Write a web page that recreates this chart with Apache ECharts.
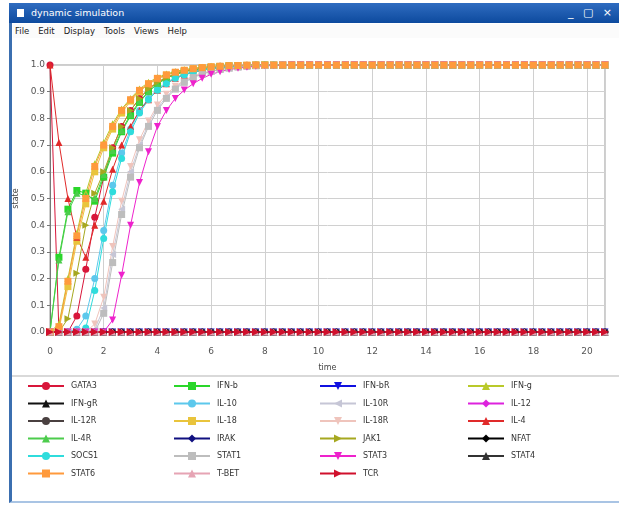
<!DOCTYPE html>
<html>
<head>
<meta charset="utf-8">
<script src="https://cdn.jsdelivr.net/npm/echarts@6/dist/echarts.min.js"></script>
<style>
html,body{margin:0;padding:0;background:#fff;width:619px;height:508px;overflow:hidden;font-family:"DejaVu Sans",sans-serif;}
#frame{position:absolute;left:9px;top:3px;width:610px;height:500px;border-left:3px solid #3b6fb0;border-bottom:2px solid #a9c4e4;box-sizing:border-box;}
#titlebar{position:absolute;left:9px;top:3px;width:610px;height:20px;background:linear-gradient(#2f6cc0,#0d4a9e);color:#fff;font-size:9.5px;line-height:20px;}
#titlebar .ico{position:absolute;left:8px;top:6px;width:7px;height:8px;background:#fff;}
#titlebar .t{position:absolute;left:22px;top:0;}
#titlebar .ctl{position:absolute;right:4px;top:0;font-size:11px;letter-spacing:3px;}
#menu{position:absolute;left:13px;top:24px;width:606px;height:14px;font-size:8.5px;line-height:14px;color:#222;background:#fbfbfb;}
#menu span{margin-right:7px;margin-left:2px}
#sep{position:absolute;left:12px;top:375px;width:607px;height:2px;background:#d9d9d9;}
#chart{position:absolute;left:0;top:0;width:619px;height:508px;}
</style>
</head>
<body>
<div id="frame"></div>
<div id="titlebar"><div class="ico"></div><span class="t">dynamic simulation</span><span class="ctl">_ ▢ ×</span></div>
<div id="menu"><span>File</span><span>Edit</span><span>Display</span><span>Tools</span><span>Views</span><span>Help</span></div>
<div id="sep"></div>
<div id="chart"></div>
<script>
// time points (simulation steps)
const time = [0,0.333,0.667,1,1.333,1.667,2,2.333,2.667,3,3.333,3.667,4,4.333,4.667,5,5.333,5.667,6,6.333,6.667,7,7.333,7.667,8,8.333,8.667,9,9.333,9.667,10,10.333,10.667,11,11.333,11.667,12,12.333,12.667,13,13.333,13.667,14,14.333,14.667,15,15.333,15.667,16,16.333,16.667,17,17.333,17.667,18,18.333,18.667,19,19.333,19.667,20,20.333,20.667];

const xTicks = [0,2,4,6,8,10,12,14,16,18,20];
const yTicks = [0.0,0.1,0.2,0.3,0.4,0.5,0.6,0.7,0.8,0.9,1.0];

// node states
const flatOff = [0,0,0,0,0,0,0,0,0,0, 0,0,0,0,0,0,0,0,0,0, 0,0,0,0,0,0,0,0,0,0, 0,0,0,0,0,0,0,0,0,0, 0,0,0,0,0,0,0,0,0,0, 0,0,0,0,0,0,0,0,0,0, 0,0,0];

const GATA3 = [1,0,0,0.06,0.235,0.43,0.58,0.69,0.77,0.83,0.875,0.91,0.935,0.953,0.966,0.976,0.983,0.988,0.992,0.995,0.997,0.998,0.999,
  1,1,1,1,1,1,1,1,1,1, 1,1,1,1,1,1,1,1,1,1, 1,1,1,1,1,1,1,1,1,1, 1,1,1,1,1,1,1,1,1,1];
const IFNb = [0,0.28,0.46,0.53,0.52,0.49,0.58,0.67,0.75,0.81,0.86,0.9,0.93,0.95,0.965,0.975,0.982,0.987,0.991,0.994,0.996,0.997,0.998,0.999,
  1,1,1,1,1,1,1,1,1,1, 1,1,1,1,1,1,1,1,1,1, 1,1,1,1,1,1,1,1,1,1, 1,1,1,1,1,1,1,1,1];
const IFNg = [0,0.03,0.2,0.37,0.52,0.63,0.71,0.78,0.835,0.875,0.91,0.935,0.953,0.966,0.976,0.983,0.988,0.992,0.995,0.997,0.998,0.999,
  1,1,1,1,1,1,1,1,1,1, 1,1,1,1,1,1,1,1,1,1, 1,1,1,1,1,1,1,1,1,1, 1,1,1,1,1,1,1,1,1,1, 1];
const IL10 = [0,0,0,0.01,0.06,0.2,0.38,0.55,0.67,0.76,0.83,0.875,0.91,0.935,0.953,0.966,0.976,0.983,0.988,0.992,0.995,0.997,0.998,0.999,
  1,1,1,1,1,1,1,1,1,1, 1,1,1,1,1,1,1,1,1,1, 1,1,1,1,1,1,1,1,1,1, 1,1,1,1,1,1,1,1,1];
const IL10R = [0,0,0,0,0,0.01,0.09,0.29,0.46,0.6,0.7,0.78,0.84,0.88,0.915,0.94,0.955,0.967,0.976,0.983,0.988,0.992,0.995,0.997,0.998,0.999,
  1,1,1,1,1,1,1,1,1,1, 1,1,1,1,1,1,1,1,1,1, 1,1,1,1,1,1,1,1,1,1, 1,1,1,1,1,1,1];
const IL18 = [0,0.01,0.17,0.34,0.48,0.6,0.69,0.76,0.82,0.865,0.9,0.928,0.948,0.962,0.972,0.98,0.986,0.99,0.993,0.995,0.997,0.998,0.999,
  1,1,1,1,1,1,1,1,1,1, 1,1,1,1,1,1,1,1,1,1, 1,1,1,1,1,1,1,1,1,1, 1,1,1,1,1,1,1,1,1,1];
const IL18R = [0,0,0,0,0,0.03,0.13,0.32,0.49,0.62,0.72,0.79,0.85,0.89,0.92,0.943,0.958,0.97,0.978,0.985,0.99,0.993,0.995,0.997,0.998,0.999,
  1,1,1,1,1,1,1,1,1,1, 1,1,1,1,1,1,1,1,1,1, 1,1,1,1,1,1,1,1,1,1, 1,1,1,1,1,1,1];
const IL4 = [1,0.71,0.5,0.355,0.28,0.4,0.49,0.61,0.7,0.77,0.83,0.87,0.905,0.93,0.95,0.963,0.973,0.98,0.986,0.99,0.993,0.995,0.997,0.998,0.999,
  1,1,1,1,1,1,1,1,1,1, 1,1,1,1,1,1,1,1,1,1, 1,1,1,1,1,1,1,1,1,1, 1,1,1,1,1,1,1,1];
const IL4R = [0,0.27,0.45,0.52,0.51,0.5,0.59,0.68,0.755,0.815,0.865,0.9,0.93,0.95,0.965,0.975,0.982,0.987,0.991,0.994,0.996,0.997,0.998,0.999,
  1,1,1,1,1,1,1,1,1,1, 1,1,1,1,1,1,1,1,1,1, 1,1,1,1,1,1,1,1,1,1, 1,1,1,1,1,1,1,1,1];
const JAK1 = [0,0,0.05,0.22,0.4,0.52,0.6,0.69,0.77,0.83,0.875,0.91,0.935,0.953,0.966,0.976,0.983,0.988,0.992,0.995,0.997,0.998,0.999,
  1,1,1,1,1,1,1,1,1,1, 1,1,1,1,1,1,1,1,1,1, 1,1,1,1,1,1,1,1,1,1, 1,1,1,1,1,1,1,1,1,1];
const SOCS1 = [0,0,0,0,0.015,0.155,0.35,0.525,0.65,0.75,0.82,0.87,0.905,0.93,0.95,0.963,0.973,0.98,0.986,0.99,0.993,0.995,0.997,0.998,0.999,
  1,1,1,1,1,1,1,1,1,1, 1,1,1,1,1,1,1,1,1,1, 1,1,1,1,1,1,1,1,1,1, 1,1,1,1,1,1,1,1];
const STAT1 = [0,0,0,0,0,0,0.07,0.26,0.44,0.58,0.69,0.77,0.83,0.875,0.91,0.935,0.953,0.966,0.976,0.983,0.988,0.992,0.995,0.997,0.998,0.999,
  1,1,1,1,1,1,1,1,1,1, 1,1,1,1,1,1,1,1,1,1, 1,1,1,1,1,1,1,1,1,1, 1,1,1,1,1,1,1];
const STAT3 = [0,0,0,0,0,0,0,0.045,0.213,0.4,0.56,0.675,0.77,0.83,0.875,0.906,0.93,0.95,0.965,0.975,0.983,0.988,0.992,0.995,0.997,0.998,0.999,
  1,1,1,1,1,1,1,1,1,1, 1,1,1,1,1,1,1,1,1,1, 1,1,1,1,1,1,1,1,1,1, 1,1,1,1,1,1];
const STAT6 = [0,0.02,0.19,0.36,0.5,0.62,0.7,0.77,0.83,0.87,0.905,0.93,0.95,0.963,0.973,0.98,0.986,0.99,0.993,0.995,0.997,0.998,0.999,
  1,1,1,1,1,1,1,1,1,1, 1,1,1,1,1,1,1,1,1,1, 1,1,1,1,1,1,1,1,1,1, 1,1,1,1,1,1,1,1,1,1];

const nodeNames = ['GATA3','IFN-b','IFN-bR','IFN-g','IFN-gR','IL-10','IL-10R','IL-12','IL-12R','IL-18','IL-18R','IL-4','IL-4R','IRAK','JAK1','NFAT','SOCS1','STAT1','STAT3','STAT4','STAT6','T-BET','TCR'];
const nodeValues = [GATA3, IFNb, flatOff, IFNg, flatOff, IL10, IL10R, flatOff, flatOff, IL18, IL18R, IL4, IL4R, flatOff, JAK1, flatOff, SOCS1, STAT1, STAT3, flatOff, STAT6, flatOff, flatOff];

// styles (not data)
const styles = {
  'GATA3':  {c:'#d8163a', s:'circle', r:0},
  'IFN-b':  {c:'#2ad62a', s:'rect', r:0},
  'IFN-bR': {c:'#1010e0', s:'triangle', r:180},
  'IFN-g':  {c:'#b9c92a', s:'triangle', r:0},
  'IFN-gR': {c:'#111111', s:'triangle', r:0},
  'IL-10':  {c:'#5cc8ec', s:'circle', r:0},
  'IL-10R': {c:'#c6c6d6', s:'triangle', r:90},
  'IL-12':  {c:'#dd22dd', s:'diamond', r:0},
  'IL-12R': {c:'#4a4040', s:'circle', r:0},
  'IL-18':  {c:'#e9c43c', s:'rect', r:0},
  'IL-18R': {c:'#efc4bc', s:'triangle', r:180},
  'IL-4':   {c:'#e02a2a', s:'triangle', r:0},
  'IL-4R':  {c:'#4ccc4c', s:'triangle', r:0},
  'IRAK':   {c:'#101080', s:'diamond', r:0},
  'JAK1':   {c:'#a6a820', s:'triangle', r:-90},
  'NFAT':   {c:'#000000', s:'diamond', r:0},
  'SOCS1':  {c:'#2fdcdc', s:'circle', r:0},
  'STAT1':  {c:'#bdbdbd', s:'rect', r:0},
  'STAT3':  {c:'#ee22cc', s:'triangle', r:180},
  'STAT4':  {c:'#333333', s:'triangle', r:0},
  'STAT6':  {c:'#ff9a3c', s:'rect', r:0},
  'T-BET':  {c:'#e6a4b4', s:'triangle', r:0},
  'TCR':    {c:'#d0102c', s:'triangle', r:-90}
};

const series = nodeNames.map((name, i) => {
  const st = styles[name];
  return {
    name: name,
    type: 'line',
    data: time.map((t, k) => [t, nodeValues[i][k]]),
    symbol: st.s,
    symbolRotate: st.r,
    symbolSize: name === 'TCR' ? 8 : 7,
    showAllSymbol: true,
    animation: false,
    lineStyle: {color: st.c, width: name === 'TCR' ? 2 : 1},
    itemStyle: {color: st.c},
    emphasis: {disabled: true}
  };
});

const cols = [
  ['GATA3','IFN-gR','IL-12R','IL-4R','SOCS1','STAT6'],
  ['IFN-b','IL-10','IL-18','IRAK','STAT1','T-BET'],
  ['IFN-bR','IL-10R','IL-18R','JAK1','STAT3','TCR'],
  ['IFN-g','IL-12','IL-4','NFAT','STAT4']
];
const colLeft = [22, 168, 314, 462];
const legends = cols.map((d, i) => ({
  data: d,
  orient: 'vertical',
  left: colLeft[i],
  top: 377,
  itemWidth: 36,
  itemHeight: 10,
  itemGap: 9.5,
  selectedMode: false,
  textStyle: {fontSize: 8, color: '#333', fontFamily: 'DejaVu Sans', padding: [0,0,0,2]}
}));

const chart = echarts.init(document.getElementById('chart'), null, {renderer: 'canvas'});
chart.setOption({
  backgroundColor: 'transparent',
  animation: false,
  legend: legends,
  grid: {left: 50, top: 65, width: 555, height: 267, show: true, borderColor: '#9a9a9a', borderWidth: 1, backgroundColor: 'transparent'},
  xAxis: {
    type: 'value', min: 0, max: 20.667, interval: 2,
    name: 'time', nameLocation: 'middle', nameGap: 32,
    nameTextStyle: {fontSize: 8, color: '#444', fontFamily: 'DejaVu Sans'},
    axisLine: {show: true, onZero: false, lineStyle: {color: '#777'}},
    axisTick: {show: false},
    axisLabel: {showMaxLabel: false, fontSize: 9, color: '#555', margin: 15, fontFamily: 'DejaVu Sans',
      formatter: v => xTicks.includes(v) ? String(v) : ''},
    splitLine: {show: true, lineStyle: {color: '#d0d0d0'}}
  },
  yAxis: {
    type: 'value', min: 0, max: 1, interval: 0.1,
    name: 'state', nameLocation: 'middle', nameGap: 21,
    nameTextStyle: {fontSize: 8, color: '#444', fontFamily: 'DejaVu Sans'},
    axisLine: {show: true, lineStyle: {color: '#777'}},
    axisTick: {show: true, length: 3, lineStyle: {color: '#777'}},
    axisLabel: {fontSize: 9, color: '#555', margin: 5, fontFamily: 'DejaVu Sans',
      formatter: v => { const m = yTicks.find(y => Math.abs(y - v) < 1e-9); return m === undefined ? '' : m.toFixed(1); }},
    splitLine: {show: true, lineStyle: {color: '#d0d0d0'}}
  },
  series: series
});
</script>
</body>
</html>
